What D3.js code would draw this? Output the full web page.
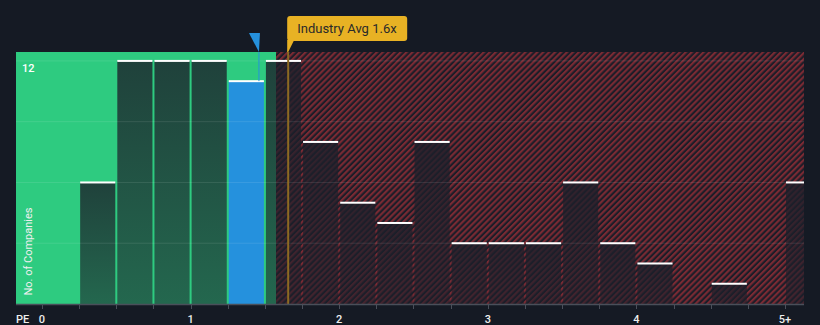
<!DOCTYPE html>
<html>
<head>
<meta charset="utf-8">
<script src="https://cdn.jsdelivr.net/npm/d3@7"></script>
<style>
  html, body { margin: 0; padding: 0; background: #151a24; }
  svg { display: block; }
  text { font-family: Roboto, "Noto Sans", sans-serif; }
</style>
</head>
<body>
<svg id="chart" width="820" height="325"></svg>
<script>
// ---- data ----
const binStarts = [0.25, 0.5, 0.75, 1.0, 1.25, 1.5, 1.75, 2.0, 2.25, 2.5, 2.75, 3.0, 3.25, 3.5, 3.75, 4.0, 4.25, 4.5, 4.75, 5.0];
const counts    = [6,    12,  12,   12,  11,   12,  8,    5,   4,    8,   3,    3,   3,    6,   3,    2,   0,    1,   0,    6];
const binWidth = 0.25;
const highlightIndex = 4;
const companyPE = 1.46;
const industryAvg = 1.65;
const fairLimit = 1.575;
const xTickValues = [0, 1, 2, 3, 4, 5];
const xTickLabels = ["0", "1", "2", "3", "4", "5+"];
const minorTicks = [0, 0.25, 0.5, 0.75, 1, 1.25, 1.5, 1.75, 2, 2.25, 2.5, 2.75, 3, 3.25, 3.5, 3.75, 4, 4.25, 4.5, 4.75, 5];
const gridValues = [3, 6, 9, 12];
const yLabelValue = 12;
const industryLabel = "Industry Avg 1.6x";

// ---- layout ----
const L = 16, R = 804, T = 52, B = 304;
const svg = d3.select("#chart");
const x = d3.scaleLinear().domain([-0.175, 5.128]).range([L, R]);
const y = d3.scaleLinear().domain([0, 12.44]).range([B, T]);

const defs = svg.append("defs");
const pat = defs.append("pattern").attr("id", "hatch")
  .attr("patternUnits", "userSpaceOnUse").attr("width", 4.2).attr("height", 4.2)
  .attr("patternTransform", "rotate(45)");
pat.append("rect").attr("width", 4.2).attr("height", 4.2).attr("fill", "#1c1d28");
pat.append("rect").attr("width", 2.1).attr("height", 4.2).attr("fill", "#7a2a33");

const grad = defs.append("linearGradient").attr("id", "barGrad")
  .attr("x1", 0).attr("y1", 0).attr("x2", 0).attr("y2", 1);
grad.append("stop").attr("offset", "0%").attr("stop-color", "#1c1f2a").attr("stop-opacity", 0.8);
grad.append("stop").attr("offset", "100%").attr("stop-color", "#1c1f2a").attr("stop-opacity", 0.58);

defs.append("clipPath").attr("id", "plotClip").append("rect")
  .attr("x", L).attr("y", 0).attr("width", R - L).attr("height", B);

// backgrounds
svg.append("rect").attr("x", L).attr("y", T).attr("width", x(fairLimit) - L).attr("height", B - T).attr("fill", "#2ecb80");
svg.append("rect").attr("x", x(fairLimit)).attr("y", T).attr("width", R - x(fairLimit)).attr("height", B - T).attr("fill", "url(#hatch)");

const plot = svg.append("g").attr("clip-path", "url(#plotClip)");

// bars
const bars = binStarts.map((s, i) => ({ s, v: counts[i], i })).filter(d => d.v > 0);
plot.selectAll("rect.bar").data(bars).enter().append("rect")
  .attr("class", "bar")
  .attr("x", d => x(d.s) + 1)
  .attr("width", d => x(d.s + binWidth) - x(d.s) - 2)
  .attr("y", d => y(d.v))
  .attr("height", d => B - y(d.v))
  .attr("fill", d => d.i === highlightIndex ? "#2591dd" : "url(#barGrad)");

// gridlines
plot.selectAll("line.grid").data(gridValues).enter().append("line")
  .attr("x1", L).attr("x2", R).attr("y1", d => y(d)).attr("y2", d => y(d))
  .attr("stroke", "#ffffff").attr("stroke-opacity", 0.1).attr("stroke-width", 1);

// bar top lines
plot.selectAll("rect.top").data(bars).enter().append("rect")
  .attr("x", d => x(d.s) + 1)
  .attr("width", d => x(d.s + binWidth) - x(d.s) - 2)
  .attr("y", d => y(d.v) - 1)
  .attr("height", 2)
  .attr("fill", "#ffffff");

// industry avg line
const xi = x(industryAvg);
svg.append("rect").attr("x", xi).attr("y", T).attr("width", 2).attr("height", B - T)
  .attr("fill", "#8c6a22");

// company marker
const xc = x(companyPE);
svg.append("line").attr("x1", xc).attr("x2", xc).attr("y1", T).attr("y2", y(counts[highlightIndex]))
  .attr("stroke", "#2591dd").attr("stroke-width", 1);
svg.append("path")
  .attr("d", `M${xc - 10},33 L${xc + 1},33 L${xc},52 Z`)
  .attr("fill", "#2591dd");

// axis
svg.append("line").attr("x1", L).attr("x2", R).attr("y1", B + 0.5).attr("y2", B + 0.5)
  .attr("stroke", "#4a4f5a").attr("stroke-width", 1.5);
svg.selectAll("line.tick").data(minorTicks).enter().append("line")
  .attr("x1", d => Math.round(x(d)) + 0.5).attr("x2", d => Math.round(x(d)) + 0.5)
  .attr("y1", B).attr("y2", B + 5)
  .attr("stroke", "#4a4f5a").attr("stroke-width", 1);
svg.selectAll("text.xl").data(xTickValues).enter().append("text")
  .attr("x", d => x(d)).attr("y", 323)
  .attr("text-anchor", "middle")
  .attr("font-size", 11).attr("font-weight", 500).attr("fill", "#eeeeee")
  .text((d, i) => xTickLabels[i]);
svg.append("text").attr("x", 16).attr("y", 323)
  .attr("font-size", 11).attr("font-weight", 500).attr("fill", "#eeeeee").text("PE");

// y label
svg.append("text").attr("x", 22).attr("y", y(yLabelValue) + 11)
  .attr("font-size", 11).attr("font-weight", 500).attr("fill", "#ffffff").text(String(yLabelValue));
svg.append("text")
  .attr("transform", `translate(32,${(207 + 296) / 2}) rotate(-90)`)
  .attr("text-anchor", "middle")
  .attr("font-size", 11).attr("fill", "#f0f0f0").text("No. of Companies");

// industry label box
svg.append("path")
  .attr("d", `M${xi},40 L${xi + 7},40 L${xi + 1},52 L${xi},52 Z`)
  .attr("fill", "#e8b224");
svg.append("rect").attr("x", xi).attr("y", 16).attr("width", 120).attr("height", 25).attr("rx", 3)
  .attr("fill", "#e8b224");
svg.append("text").attr("x", xi + 10).attr("y", 33)
  .attr("font-size", 13).attr("fill", "#2a2a2a").text(industryLabel);
</script>
</body>
</html>
